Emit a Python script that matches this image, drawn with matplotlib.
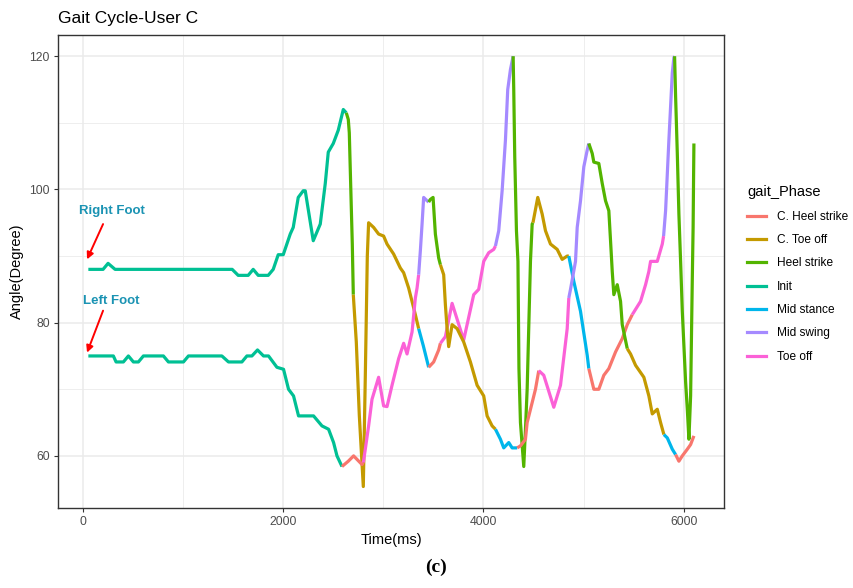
import matplotlib
matplotlib.use("Agg")
import matplotlib.pyplot as plt
from matplotlib.lines import Line2D

plt.rcParams["font.family"] = ["Liberation Sans", "DejaVu Sans"]

# gait phases and ggplot default hue palette
phases = ["C. Heel strike", "C. Toe off", "Heel strike", "Init", "Mid stance", "Mid swing", "Toe off"]
phase_colors = ["#F8766D", "#C49A00", "#53B400", "#00C094", "#00B6EB", "#A58AFF", "#FB61D7"]

# right foot: time (ms), angle (deg), phase index
right_t = [53, 200, 250, 320, 1490, 1550, 1650, 1700, 1750, 1850, 1900, 1950, 2000, 2070, 2100,
           2150, 2200, 2220, 2300, 2370, 2420, 2450, 2500, 2550, 2600,
           2630, 2650, 2660, 2670, 2680, 2690,
           2700, 2730, 2760, 2800, 2820, 2840, 2853, 2903, 2953, 3003, 3037, 3103, 3170, 3203, 3253, 3320,
           3353, 3400,
           3453, 3503, 3553,
           3570, 3620, 3687, 3803, 3903, 3953, 4003, 4053, 4103,
           4120, 4153, 4187, 4220, 4243, 4270,
           4297, 4303, 4313, 4330, 4345, 4355, 4370, 4403, 4420, 4437, 4470, 4487,
           4495, 4543, 4587, 4620, 4670, 4737, 4787, 4837,
           4853, 4903, 4970, 5037,
           5053, 5103, 5153, 5203, 5253, 5320, 5387, 5437,
           5487, 5570, 5620, 5653, 5670, 5737, 5787,
           5800, 5820, 5853, 5887, 5903,
           5910, 5920, 5937, 5953, 5970, 5987, 6020, 6037, 6053, 6070, 6087, 6095, 6100, 6103]
right_angle = [88.0, 88.0, 88.9, 88.0, 88.0, 87.1, 87.1, 88.0, 87.1, 87.1, 88.0, 90.2, 90.2, 93.3, 94.3,
               98.8, 99.8, 99.8, 92.3, 94.8, 100.9, 105.6, 106.9, 108.9, 112.0,
               111.5, 110.5, 108.5, 102.9, 97.3, 91.8,
               84.2, 77.1, 66.1, 55.4, 72.0, 90.0, 95.0, 94.3, 93.3, 93.0, 91.8, 90.3, 88.2, 87.5, 85.2, 81.2,
               79.1, 76.5,
               73.3, 74.1, 75.9,
               76.9, 77.9, 82.9, 77.4, 84.2, 85.0, 89.2, 90.5, 91.0,
               91.5, 93.8, 99.8, 107.4, 115.0, 118.0,
               120.0, 115.0, 104.9, 93.8, 89.2, 73.1, 65.0, 58.4, 64.0, 70.0, 89.2, 94.8,
               95.0, 98.8, 96.3, 93.8, 91.8, 91.0, 89.5, 90.0,
               90.0, 86.2, 81.7, 75.1,
               73.1, 70.0, 70.0, 72.1, 73.1, 75.6, 77.6, 79.7,
               81.2, 83.2, 85.7, 87.7, 89.2, 89.2, 91.8,
               93.0, 96.8, 107.4, 117.5, 119.8,
               120.0, 114.0, 105.4, 96.3, 89.2, 81.7, 71.1, 67.0, 62.5, 69.0, 86.7, 94.3, 102.4, 106.9]
right_phase = ([3] * 25 + [2] * 6 + [1] * 16 + [4] * 2 + [0] * 3 + [6] * 9 + [5] * 6 + [2] * 12
               + [1] * 8 + [4] * 4 + [0] * 8 + [6] * 7 + [5] * 5 + [2] * 14)

# left foot
left_t = [53, 303, 330, 403, 453, 503, 553, 603, 803, 853, 1003, 1053, 1387, 1453, 1587, 1637, 1687,
          1743, 1803, 1853, 1937, 2003, 2053, 2103, 2153, 2303, 2387, 2453, 2503, 2537,
          2587, 2650, 2703, 2787,
          2800, 2820, 2853, 2887, 2953, 3003, 3037, 3087, 3153, 3203, 3237, 3287, 3320, 3337,
          3353, 3370, 3387, 3403, 3437,
          3453, 3470, 3497, 3520, 3553,
          3570, 3603, 3620, 3637, 3653, 3687, 3737, 3803, 3870, 3937, 4003, 4037, 4087,
          4120, 4170, 4203, 4253, 4287,
          4337, 4370, 4420, 4437, 4487, 4520,
          4553, 4603, 4703, 4770, 4837,
          4853, 4870, 4920, 4937, 4970, 5003, 5037,
          5053, 5087, 5103, 5153, 5187, 5220, 5253, 5270, 5287, 5303, 5337, 5370, 5387,
          5437, 5470, 5520, 5603, 5653, 5687, 5737, 5770,
          5803, 5837, 5887,
          5920, 5953, 5987, 6037, 6070, 6103]
left_angle = [75.0, 75.0, 74.1, 74.1, 75.0, 74.1, 74.1, 75.0, 75.0, 74.1, 74.1, 75.0, 75.0, 74.1, 74.1, 75.0, 75.0,
              75.9, 75.0, 75.0, 73.3, 73.0, 70.0, 69.0, 66.0, 66.0, 64.5, 64.0, 62.0, 60.0,
              58.4, 59.2, 60.0, 58.7,
              59.0, 61.0, 64.5, 68.5, 71.8, 67.5, 67.4, 70.6, 74.6, 76.9, 75.3, 78.6, 83.7, 85.2,
              87.2, 90.8, 94.8, 98.8, 98.3,
              98.1, 98.5, 98.8, 93.3, 89.7,
              88.7, 87.2, 82.7, 79.1, 76.4, 79.7, 79.1, 77.1, 74.1, 70.6, 69.0, 66.0, 64.5,
              64.0, 62.5, 61.2, 62.0, 61.2,
              61.2, 61.5, 62.5, 65.0, 68.0, 70.0,
              72.8, 72.1, 67.3, 70.6, 79.1,
              83.7, 85.0, 89.2, 94.3, 98.3, 103.4, 105.9,
              106.9, 105.4, 104.1, 103.9, 100.9, 98.3, 96.8, 92.3, 87.7, 84.2, 85.7, 83.2, 79.7,
              76.1, 75.3, 73.6, 71.8, 69.0, 66.3, 67.0, 65.0,
              63.2, 62.7, 61.0,
              60.2, 59.2, 60.0, 61.0, 61.7, 63.0]
left_phase = ([3] * 30 + [0] * 4 + [6] * 14 + [5] * 5 + [2] * 5 + [1] * 13 + [4] * 5 + [0] * 6
              + [6] * 5 + [5] * 7 + [2] * 13 + [1] * 8 + [4] * 3 + [0] * 6)

# annotation placement (data coords)
right_label_xy = (290, 96.7)
left_label_xy = (285, 83.2)
right_arrow = ((200, 94.8), (40, 89.5))
left_arrow = ((200, 81.8), (40, 75.5))
label_color = "#1A93B3"


def draw_foot(ax, t, y, ph):
    # each segment takes the colour of its starting point (like geom_line with group)
    start = 0
    n = len(t)
    for i in range(1, n + 1):
        if i == n or ph[i] != ph[start]:
            stop = min(i + 1, n)
            ax.plot(t[start:stop], y[start:stop], color=phase_colors[ph[start]],
                    lw=2.3, solid_capstyle="butt", solid_joinstyle="round", zorder=3)
            start = i


fig = plt.figure(figsize=(8.54, 5.88), dpi=100)
ax = fig.add_axes([0.068, 0.136, 0.780, 0.805])

draw_foot(ax, right_t, right_angle, right_phase)
draw_foot(ax, left_t, left_angle, left_phase)

ax.margins(x=0.05, y=0.05)
ax.set_xticks([0, 2000, 4000, 6000])
ax.set_xticks([1000, 3000, 5000], minor=True)
ax.set_yticks([60, 80, 100, 120])
ax.set_yticks([70, 90, 110], minor=True)
ax.grid(which="major", color="#EBEBEB", lw=1.1, zorder=0)
ax.grid(which="minor", color="#EBEBEB", lw=0.6, zorder=0)
ax.set_axisbelow(True)
ax.tick_params(which="major", length=3, width=0.8, color="#333333", labelcolor="#4D4D4D",
               labelsize=8.8, pad=3)
ax.tick_params(which="minor", length=0)
for s in ax.spines.values():
    s.set_color("#333333")
    s.set_linewidth(1.0)

ax.set_xlabel("Time(ms)", fontsize=10.5, labelpad=3)
ax.set_ylabel("Angle(Degree)", fontsize=10.5, labelpad=4)
fig.text(0.068, 0.955, "Gait Cycle-User C", fontsize=12.5, ha="left", va="bottom")

ax.text(*right_label_xy, "Right Foot", color=label_color, fontsize=9.5, fontweight="bold",
        ha="center", va="center")
ax.text(*left_label_xy, "Left Foot", color=label_color, fontsize=9.5, fontweight="bold",
        ha="center", va="center")
for (x0, y0), (x1, y1) in [right_arrow, left_arrow]:
    ax.annotate("", xy=(x1, y1), xytext=(x0, y0),
                arrowprops=dict(arrowstyle="-|>", color="red", lw=1.4, mutation_scale=10,
                                shrinkA=0, shrinkB=0))

handles = [Line2D([], [], color=c, lw=2.3) for c in phase_colors]
leg = fig.legend(handles, phases, title="gait_Phase", loc="upper left",
                 bbox_to_anchor=(0.862, 0.703), frameon=False, fontsize=8.6,
                 title_fontsize=10.5, handlelength=1.6, handletextpad=0.9, labelspacing=0.95)
leg._legend_box.align = "left"

fig.text(0.51, 0.035, "(c)", fontsize=14, fontweight="bold", family="Liberation Serif",
         ha="center", va="center")

fig.savefig("out.png", dpi=100)
